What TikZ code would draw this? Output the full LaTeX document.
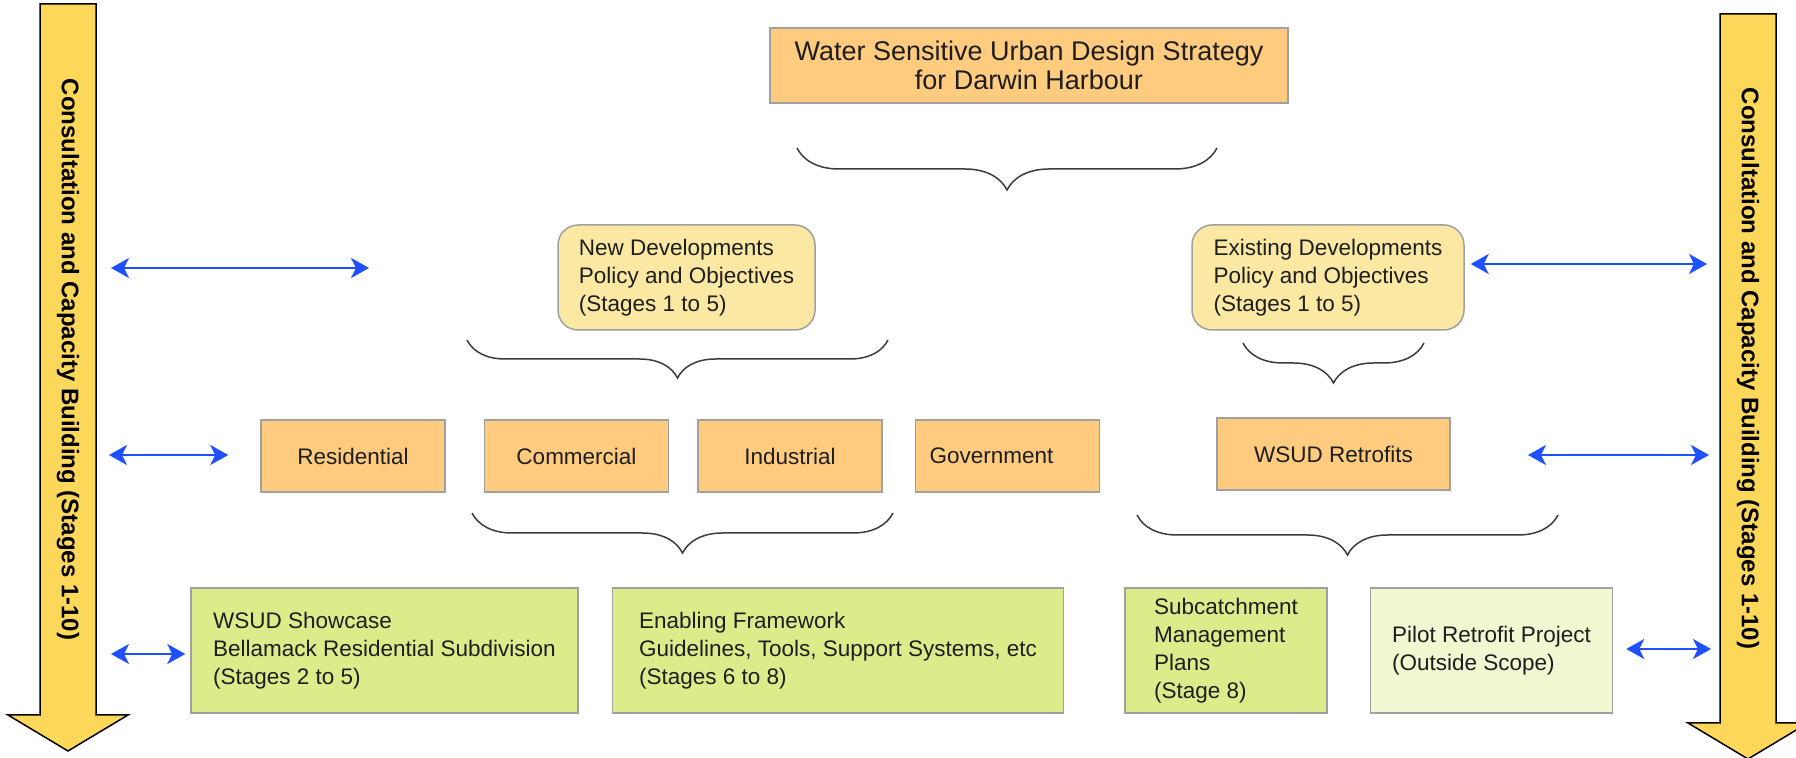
\documentclass[tikz,border=0pt]{standalone}
\usepackage{fontspec}
\setmainfont{Liberation Sans}
\usepackage{xcolor}
\usepackage{tikz}
\usetikzlibrary{arrows.meta, positioning, decorations.pathreplacing, calc}

\definecolor{boxorange}{RGB}{254,203,127}
\definecolor{boxyellow}{RGB}{251,232,163}
\definecolor{boxgreen}{RGB}{221,235,139}
\definecolor{boxpale}{RGB}{241,247,208}
\definecolor{boxgray}{RGB}{160,160,160}
\definecolor{sidegold}{RGB}{253,215,90}
\definecolor{linkblue}{RGB}{31,80,255}
\definecolor{inkdark}{RGB}{30,30,30}
\definecolor{bracegray}{RGB}{60,60,60}

\newcommand{\txtbody}{\fontsize{11.25}{14}\selectfont}
\newcommand{\txttitle}{\fontsize{13.5}{14.5}\selectfont}
\newcommand{\txtside}{\fontsize{12}{14}\selectfont\bfseries}

\begin{document}
\begin{tikzpicture}[
  x=0.5pt, y=-0.5pt,
  blk/.style={rectangle, draw=boxgray, line width=0.75pt, fill=boxorange,
              minimum width=92pt, minimum height=36pt, inner sep=0pt,
              align=center, font=\txtbody, text=inkdark},
  rblk/.style={blk, rounded corners=10pt, fill=boxyellow, align=left,
               minimum height=52.5pt},
  gblk/.style={blk, fill=boxgreen, align=left, minimum height=62.5pt},
  pblk/.style={gblk, fill=boxpale},
  bigarr/.style={draw=black, line width=0.75pt, fill=sidegold},
  barr/.style={{Stealth[length=9pt, width=10pt, inset=2.5pt]}-{Stealth[length=9pt, width=10pt, inset=2.5pt]},
               line width=1.25pt, linkblue},
  brc/.style={decorate, decoration={brace, mirror, amplitude=#1},
              draw=bracegray, line width=0.75pt},
  brc/.default=20pt,
]
\useasboundingbox (0,0) rectangle (1796,758);

%% ---- side arrows: consultation runs through every stage ----
\foreach \cx/\top/\hy/\nm in {68/4/715/consL, 1748/14/723/consR} {
  \filldraw[bigarr] (\cx-28,\top) -- (\cx+28,\top) -- (\cx+28,\hy)
        -- (\cx+60,\hy) -- (\cx,\hy+36) -- (\cx-60,\hy) -- (\cx-28,\hy) -- cycle;
  \node[font=\txtside, rotate=-90] (\nm) at (\cx,{(\top+\hy)/2})
        {Consultation and Capacity Building (Stages 1-10)};
}

%% ---- strategy and policies ----
\node[blk, minimum width=259pt, minimum height=37.5pt, font=\txttitle]
      (wsud) at (1029,65.5) {Water Sensitive Urban Design Strategy\\for Darwin Harbour};
\node[rblk, minimum width=128.5pt] (newdev) at (686.5,277.5)
      {New Developments\\Policy and Objectives\\(Stages 1 to 5)};
\node[rblk, minimum width=136pt] (exdev) at (1328,277.5)
      {Existing Developments\\Policy and Objectives\\(Stages 1 to 5)};

%% ---- development types ----
\node[blk] (res) at (353,456) {Residential};
\node[blk, right=19pt of res] (com) {Commercial};
\node[blk, right=14pt of com] (ind) {Industrial};
\node[blk, right=16pt of ind] (gov) {Government\hspace*{16pt}};
\node[blk, minimum width=116.5pt] (retro) at (1333.5,454) {WSUD Retrofits};

%% ---- projects and outputs ----
\node[gblk, minimum width=193.5pt] (show) at (384.5,650.5)
      {WSUD Showcase\\Bellamack Residential Subdivision\\(Stages 2 to 5)};
\node[gblk, minimum width=225.5pt, right=16.5pt of show] (enab)
      {Enabling Framework\\Guidelines, Tools, Support Systems, etc\\(Stages 6 to 8)};
\node[gblk, minimum width=101pt, right=30pt of enab] (subc)
      {Subcatchment\\Management\\Plans\\(Stage 8)};
\node[pblk, minimum width=121pt, right=21pt of subc] (pilot)
      {Pilot Retrofit Project\\(Outside Scope)};

%% braces
\draw[brc=21pt] (797,148) -- (1217,148);
\draw[brc=19pt] (467,340) -- (888,340);
\draw[brc=20pt] (1243,343) -- (1424,343);
\draw[brc=20pt] (472,513) -- (893,513);
\draw[brc=20pt] (1137,515) -- (1558,515);

%% links to the consultation arrows
\coordinate (cl1) at (111,268);
\coordinate (cl1e) at (369,268);
\coordinate (cl2) at (109,455);
\coordinate (cl3) at (111,654);
\coordinate (cr1) at (1707,264);
\coordinate (cr2s) at (1528,455);
\coordinate (cr2) at (1709,455);
\coordinate (cr3) at (1711,649);

\draw[barr] (cl1) -- (cl1e);
\draw[barr, shorten >=16pt] (cl2) -- (cl2 -| res.west);
\draw[barr, shorten >=2.5pt] (cl3) -- (cl3 -| show.west);
\draw[barr, shorten <=3pt] (cr1 -| exdev.east) -- (cr1);
\draw[barr] (cr2s) -- (cr2);
\draw[barr, shorten <=6.5pt] (cr3 -| pilot.east) -- (cr3);

\end{tikzpicture}
\end{document}
